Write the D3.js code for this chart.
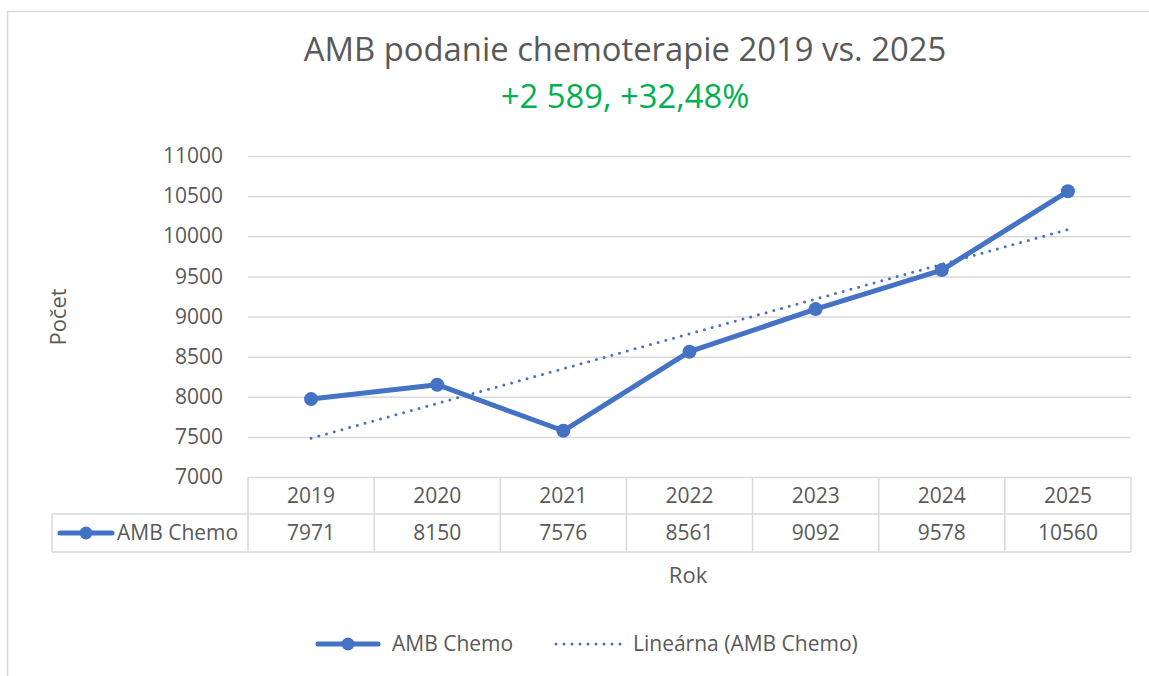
<!DOCTYPE html>
<html><head><meta charset="utf-8">
<script src="https://cdn.jsdelivr.net/npm/d3@7"></script>
<style>
html,body{margin:0;padding:0;background:#fff;}
svg{display:block;font-family:"Open Sans",sans-serif;}
</style></head>
<body>
<svg id="c" width="1149" height="676"></svg>
<script>
const years = ["2019","2020","2021","2022","2023","2024","2025"];
const values = [7971, 8150, 7576, 8561, 9092, 9578, 10560];
const yTicks = [7000, 7500, 8000, 8500, 9000, 9500, 10000, 10500, 11000];
const seriesName = "AMB Chemo";
const trendName = "Lineárna (AMB Chemo)";
const titleText = "AMB podanie chemoterapie 2019 vs. 2025";
const subtitleText = "+2 589, +32,48%";
const xTitle = "Rok";
const yTitle = "Počet";

(function(){
const blue = "#4472C4", grid = "#D9D9D9", txt = "#595959";
const fs = 21;
const svg = d3.select("#c");
const pL = 248, pR = 1131, pT = 156, pB = 477;

svg.append("rect").attr("x",7.5).attr("y",11.5).attr("width",1160).attr("height",700)
  .attr("fill","#fff").attr("stroke",grid).attr("stroke-width",1.5);

const x = d3.scaleBand().domain(years).range([pL, pR]);
const y = d3.scaleLinear().domain([7000, 11000]).range([pB, pT]);

svg.append("text").attr("x",625).attr("y",61).attr("text-anchor","middle")
  .attr("font-size",32.8).attr("fill",txt).text(titleText);
svg.append("text").attr("x",625).attr("y",108).attr("text-anchor","middle")
  .attr("font-size",32.8).attr("fill","#00B050").text(subtitleText);

const yAxis = d3.axisLeft(y).tickValues(yTicks).tickFormat(d3.format("d"))
  .tickSize(-(pR-pL)).tickPadding(25);
const gy = svg.append("g").attr("transform",`translate(${pL},0)`).call(yAxis);
gy.select(".domain").remove();
gy.selectAll(".tick line").attr("stroke",grid).attr("stroke-width",1.5);
gy.selectAll(".tick text").attr("fill",txt).attr("font-size",fs)
  .attr("font-family","'Open Sans',sans-serif");

svg.append("text").attr("transform","translate(66,317) rotate(-90)").attr("text-anchor","middle")
  .attr("font-size",22).attr("fill",txt).text(yTitle);

const row1 = pB, row2 = 514, row3 = 552;
const tg = svg.append("g").attr("stroke",grid).attr("stroke-width",1.5).attr("fill","none");
tg.append("line").attr("x1",pL).attr("x2",pR).attr("y1",row2).attr("y2",row2);
tg.append("line").attr("x1",52).attr("x2",pR).attr("y1",row3).attr("y2",row3);
tg.append("line").attr("x1",52).attr("x2",pL).attr("y1",row2).attr("y2",row2);
tg.append("line").attr("x1",52).attr("x2",52).attr("y1",row2).attr("y2",row3);
years.forEach(yr=>{
  tg.append("line").attr("x1",x(yr)).attr("x2",x(yr)).attr("y1",row1).attr("y2",row3);
});
tg.append("line").attr("x1",pR).attr("x2",pR).attr("y1",row1).attr("y2",row3);

const xAxisG = svg.append("g");
years.forEach((yr,i)=>{
  xAxisG.append("text").attr("x",x(yr)+x.bandwidth()/2).attr("y",(row1+row2)/2+7)
    .attr("text-anchor","middle").attr("font-size",fs).attr("fill",txt).text(yr);
  xAxisG.append("text").attr("x",x(yr)+x.bandwidth()/2).attr("y",(row2+row3)/2+7)
    .attr("text-anchor","middle").attr("font-size",fs).attr("fill",txt).text(values[i]);
});
function key(g, x0, x1, cy, marker){
  g.append("line").attr("x1",x0).attr("x2",x1).attr("y1",cy).attr("y2",cy)
    .attr("stroke",blue).attr("stroke-width",5).attr("stroke-linecap","round");
  if(marker) g.append("circle").attr("cx",(x0+x1)/2).attr("cy",cy).attr("r",6.5).attr("fill",blue);
}
key(svg, 60, 112, (row2+row3)/2, true);
svg.append("text").attr("x",117).attr("y",(row2+row3)/2+7).attr("font-size",fs).attr("fill",txt).text(seriesName);

svg.append("text").attr("x",688).attr("y",583).attr("text-anchor","middle")
  .attr("font-size",22).attr("fill",txt).text(xTitle);

const xs = values.map((_,i)=>i+1);
const mx = d3.mean(xs), my = d3.mean(values);
const slope = d3.sum(xs.map((xi,i)=>(xi-mx)*(values[i]-my))) / d3.sum(xs.map(xi=>(xi-mx)**2));
const icpt = my - slope*mx;
const cx = yr => x(yr)+x.bandwidth()/2;
const trend = years.map((yr,i)=>[cx(yr), y(icpt+slope*(i+1))]);
svg.append("path").attr("d",d3.line()([trend[0],trend[trend.length-1]]))
  .attr("fill","none").attr("stroke",blue).attr("stroke-width",3)
  .attr("stroke-dasharray","0,8").attr("stroke-linecap","round");

const line = d3.line().x((d,i)=>cx(years[i])).y(d=>y(d));
svg.append("path").attr("d",line(values)).attr("fill","none").attr("stroke",blue)
  .attr("stroke-width",5).attr("stroke-linejoin","round").attr("stroke-linecap","round");
svg.selectAll(".pt").data(values).enter().append("circle")
  .attr("cx",(d,i)=>cx(years[i])).attr("cy",d=>y(d)).attr("r",7).attr("fill",blue);

const ly = 644;
key(svg, 318, 378, ly, true);
svg.append("text").attr("x",392).attr("y",ly+7).attr("font-size",fs).attr("fill",txt).text(seriesName);
svg.append("line").attr("x1",556).attr("x2",626).attr("y1",ly).attr("y2",ly)
  .attr("stroke",blue).attr("stroke-width",3).attr("stroke-dasharray","0,8").attr("stroke-linecap","round");
svg.append("text").attr("x",633).attr("y",ly+7).attr("font-size",fs).attr("fill",txt).text(trendName);
})();
</script>
</body></html>
